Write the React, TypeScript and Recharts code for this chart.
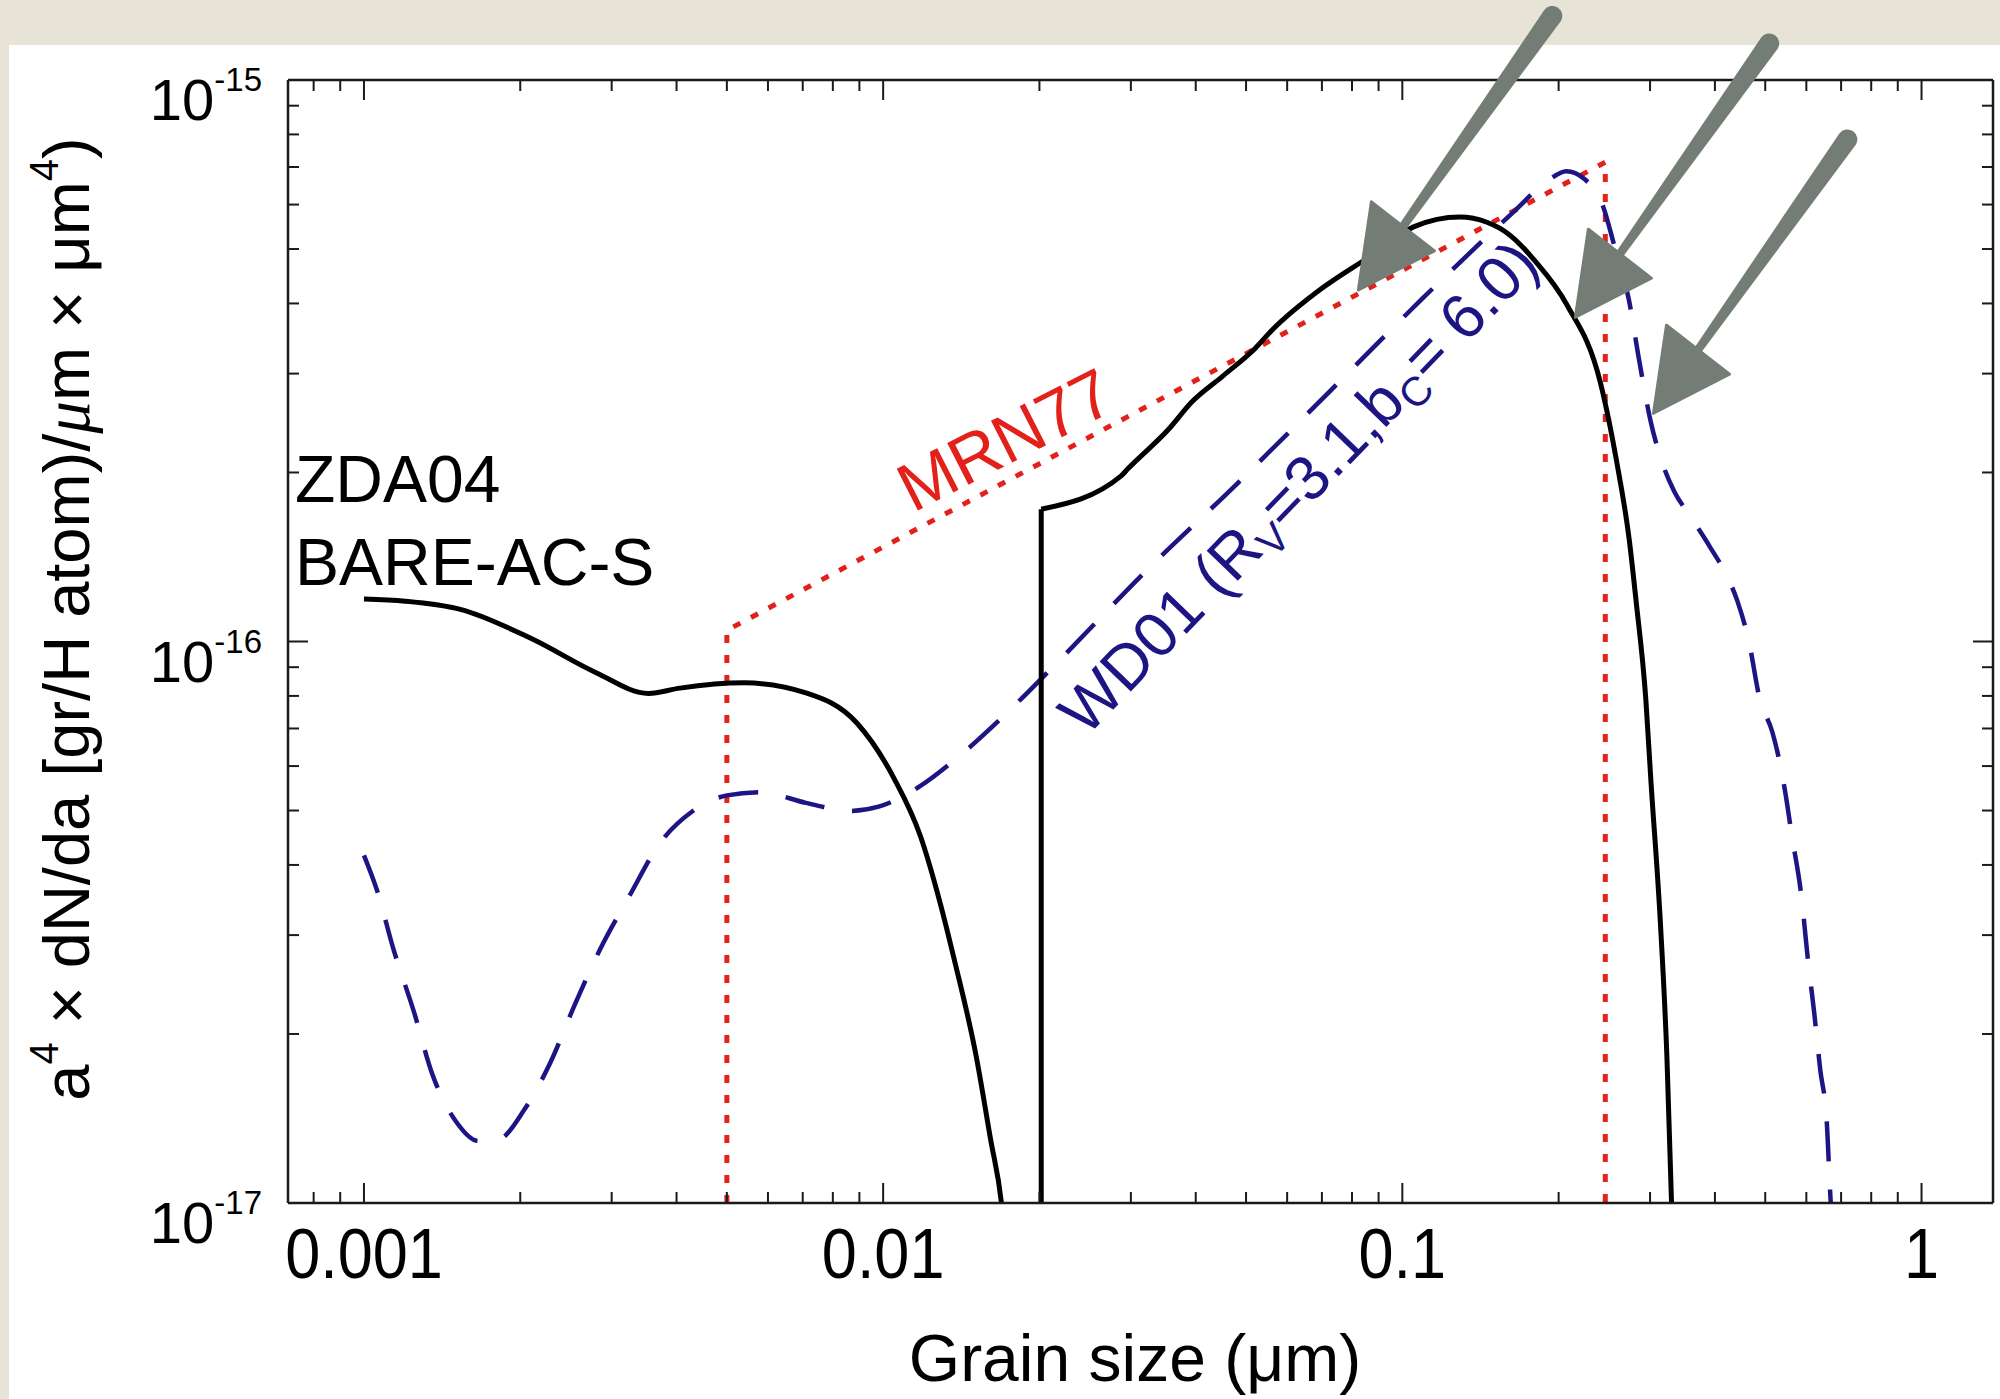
import React from "react";
import { LineChart, Line, XAxis, YAxis, ReferenceDot } from "recharts";

// grain size a (µm) and a^4 dN/da (gr/H atom µm^3)

// ZDA04 BARE-AC-S, small grains (falls off below the axis near 0.017 µm)
const zdaSmallA = [0.001, 0.0012, 0.00154, 0.00211, 0.0028, 0.00353, 0.00406, 0.0054, 0.0071, 0.0089, 0.0105, 0.0118, 0.0129, 0.0137, 0.0151, 0.0161, 0.0169, 0.0172];
const zdaSmallV = [1.19e-16, 1.18e-16, 1.14e-16, 1.01e-16, 8.8e-17, 8.08e-17, 8.26e-17, 8.44e-17, 8.1e-17, 7.16e-17, 5.7e-17, 4.5e-17, 3.4e-17, 2.72e-17, 1.83e-17, 1.3e-17, 1.0e-17, 8.5e-18];

// ZDA04 BARE-AC-S, the jump at ~0.02 µm where the large grains start
const zdaJumpA = [0.02016, 0.02016];
const zdaJumpV = [5e-18, 1.72e-16];

// ZDA04 BARE-AC-S, large grains
const zdaLargeA = [0.02016, 0.0287, 0.0296, 0.0355, 0.0393, 0.0451, 0.0521, 0.0562, 0.0701, 0.086, 0.1054, 0.129, 0.1455, 0.1543, 0.1695, 0.1787, 0.2077, 0.2405, 0.2585, 0.2735, 0.282, 0.2944, 0.3011, 0.3141, 0.3233, 0.33, 0.333];
const zdaLargeV = [1.72e-16, 1.97e-16, 2.03e-16, 2.39e-16, 2.67e-16, 2.97e-16, 3.33e-16, 3.59e-16, 4.26e-16, 4.83e-16, 5.48e-16, 5.7e-16, 5.58e-16, 5.44e-16, 5.07e-16, 4.8e-16, 3.97e-16, 2.9e-16, 2.1e-16, 1.52e-16, 1.18e-16, 7.9e-17, 5.66e-17, 3.15e-17, 1.82e-17, 1.0e-17, 8e-18];

// MRN77 power law between 0.005 and 0.25 µm
const mrnA = [0.005, 0.005, 0.246, 0.246];
const mrnV = [1e-17, 1.047e-16, 7.14e-16, 1e-17];

// WD01 (Rv=3.1, bc=6.0)
const wdA = [0.001, 0.00106, 0.00114, 0.00125, 0.00135, 0.00151, 0.00166, 0.00182, 0.00204, 0.00228, 0.00255, 0.00285, 0.00325, 0.0037, 0.0043, 0.005, 0.0058, 0.0071, 0.0086, 0.0098, 0.0118, 0.0137, 0.0172, 0.0219, 0.0321, 0.0482, 0.0725, 0.109, 0.164, 0.19, 0.207, 0.224, 0.244, 0.256, 0.273, 0.286, 0.301, 0.314, 0.334, 0.359, 0.392, 0.416, 0.442, 0.465, 0.488, 0.516, 0.531, 0.547, 0.562, 0.587, 0.604, 0.621, 0.638, 0.657, 0.666, 0.675];
const wdV = [4.16e-17, 3.6e-17, 2.83e-17, 2.18e-17, 1.71e-17, 1.39e-17, 1.29e-17, 1.3e-17, 1.47e-17, 1.77e-17, 2.26e-17, 2.83e-17, 3.53e-17, 4.35e-17, 4.99e-17, 5.32e-17, 5.39e-17, 5.16e-17, 4.99e-17, 5.08e-17, 5.53e-17, 6.14e-17, 7.42e-17, 9.28e-17, 1.336e-16, 1.915e-16, 2.79e-16, 4.07e-16, 5.83e-16, 6.6e-16, 6.88e-16, 6.67e-16, 5.93e-16, 5.07e-16, 4.07e-16, 3.16e-16, 2.46e-16, 2.13e-16, 1.85e-16, 1.67e-16, 1.47e-16, 1.34e-16, 1.18e-16, 1.0e-16, 7.9e-17, 6.9e-17, 6.2e-17, 5.36e-17, 4.54e-17, 3.52e-17, 2.72e-17, 2.19e-17, 1.73e-17, 1.39e-17, 1.07e-17, 8.5e-18];

// tips of the three grey hand-drawn arrows
const arrowA = [0.0823, 0.2154, 0.3046];
const arrowV = [4.23e-16, 3.78e-16, 2.55e-16];

// axes
const xDomain = [7.14e-4, 1.373];
const yDomain = [1e-17, 1e-15];
const xTicks = [0.0008, 0.0009, 0.001, 0.002, 0.003, 0.004, 0.005, 0.006, 0.007, 0.008, 0.009, 0.01, 0.02, 0.03, 0.04, 0.05, 0.06, 0.07, 0.08, 0.09, 0.1, 0.2, 0.3, 0.4, 0.5, 0.6, 0.7, 0.8, 0.9, 1];
const xTickLabels = ["0.001", "0.01", "0.1", "1"];
const yTicks = [1e-17, 2e-17, 3e-17, 4e-17, 5e-17, 6e-17, 7e-17, 8e-17, 9e-17, 1e-16, 2e-16, 3e-16, 4e-16, 5e-16, 6e-16, 7e-16, 8e-16, 9e-16, 1e-15];
const yTickExponents = ["-17", "-16", "-15"];

const zip = (a: number[], v: number[]) => a.map((x, i) => ({ a: x, v: v[i] }));

const FONT = '"Liberation Sans", Arial, Helvetica, sans-serif';
const AXIS = "#1a1a1a";
const RED = "#e3211b";
const NAVY = "#1c1583";
const GREY = "#747d75";

const isDecade = (v: number) => Math.abs(Math.log10(v) - Math.round(Math.log10(v))) < 1e-6;
const decadeIndex = (v: number, first: number) => Math.round(Math.log10(v)) - first;

function BottomTick({ x, y, payload }: any) {
  const v = payload.value;
  const major = isDecade(v);
  return (
    <g>
      <line x1={x} x2={x} y1={y} y2={y - (major ? 20 : 11)} stroke={AXIS} strokeWidth={2} />
      {major && (
        // the x labels are a touch taller and narrower than plain Helvetica
        <text
          transform={`translate(${x} ${y + 75}) scale(0.9 1)`}
          textAnchor="middle"
          fontSize={70}
          fontFamily={FONT}
          fill="#000"
        >
          {xTickLabels[decadeIndex(v, -3)]}
        </text>
      )}
    </g>
  );
}

function TopTick({ x, y, payload }: any) {
  const major = isDecade(payload.value);
  return <line x1={x} x2={x} y1={y} y2={y + (major ? 20 : 11)} stroke={AXIS} strokeWidth={2} />;
}

function LeftTick({ x, y, payload }: any) {
  const v = payload.value;
  const major = isDecade(v);
  return (
    <g>
      <line x1={x} x2={x + (major ? 20 : 11)} y1={y} y2={y} stroke={AXIS} strokeWidth={2} />
      {major && (
        <text x={x - 26} y={y + 40} textAnchor="end" fontFamily={FONT} fill="#000">
          <tspan fontSize={58}>10</tspan>
          <tspan fontSize={33} dy={-29}>{yTickExponents[decadeIndex(v, -17)]}</tspan>
        </text>
      )}
    </g>
  );
}

function RightTick({ x, y, payload }: any) {
  const major = isDecade(payload.value);
  return <line x1={x} x2={x - (major ? 20 : 11)} y1={y} y2={y} stroke={AXIS} strokeWidth={2} />;
}

// brush-like arrow, tip at (cx, cy), pointing down-left
function ArrowShape({ cx, cy }: any) {
  if (cx == null || cy == null) return null;
  const px = 0.815, py = 0.579;
  const sx = cx + 40, sy = cy - 57;
  const tx = cx + 194, ty = cy - 274;
  const w0 = 4, w1 = 10;
  const shaft =
    `M${sx + px * w0},${sy + py * w0} L${tx + px * w1},${ty + py * w1} ` +
    `A${w1},${w1} 0 0 0 ${tx - px * w1},${ty - py * w1} L${sx - px * w0},${sy - py * w0} Z`;
  const head = `M${cx},${cy} L${cx + 13},${cy - 88} L${cx + 76},${cy - 39} Z`;
  return (
    <g>
      <path d={shaft} fill={GREY} />
      <path d={head} fill={GREY} stroke={GREY} strokeWidth={3} strokeLinejoin="round" />
    </g>
  );
}

export default function App() {
  const axisLine = { stroke: AXIS, strokeWidth: 2.5 };
  return (
    <div
      style={{
        position: "absolute",
        left: 0,
        top: 0,
        width: 2000,
        height: 1399,
        background: "#e7e4d7",
        overflow: "hidden",
        fontFamily: FONT,
      }}
    >
      <div style={{ position: "absolute", left: 9, top: 45, right: 0, bottom: 0, background: "#ffffff" }} />
      <div style={{ position: "absolute", left: 0, top: 0 }}>
        <LineChart width={2000} height={1399} margin={{ top: 79, right: 6, bottom: 195, left: 287 }}>
          <XAxis
            xAxisId="b"
            dataKey="a"
            type="number"
            scale="log"
            domain={xDomain}
            allowDataOverflow
            ticks={xTicks}
            interval={0}
            height={1}
            tickSize={0}
            tickMargin={0}
            tickLine={false}
            axisLine={axisLine}
            tick={(p: any) => <BottomTick {...p} />}
          />
          <XAxis
            xAxisId="t"
            orientation="top"
            dataKey="a"
            type="number"
            scale="log"
            domain={xDomain}
            allowDataOverflow
            ticks={xTicks}
            interval={0}
            height={1}
            tickSize={0}
            tickMargin={0}
            tickLine={false}
            axisLine={axisLine}
            tick={(p: any) => <TopTick {...p} />}
          />
          <YAxis
            yAxisId="l"
            dataKey="v"
            type="number"
            scale="log"
            domain={yDomain}
            allowDataOverflow
            ticks={yTicks}
            interval={0}
            width={1}
            tickSize={0}
            tickMargin={0}
            tickLine={false}
            axisLine={axisLine}
            tick={(p: any) => <LeftTick {...p} />}
          />
          <YAxis
            yAxisId="r"
            orientation="right"
            dataKey="v"
            type="number"
            scale="log"
            domain={yDomain}
            allowDataOverflow
            ticks={yTicks}
            interval={0}
            width={1}
            tickSize={0}
            tickMargin={0}
            tickLine={false}
            axisLine={axisLine}
            tick={(p: any) => <RightTick {...p} />}
          />
          <Line
            xAxisId="b"
            yAxisId="l"
            data={zip(mrnA, mrnV)}
            dataKey="v"
            type="linear"
            stroke={RED}
            strokeWidth={5}
            strokeDasharray="8 12"
            dot={false}
            activeDot={false}
            isAnimationActive={false}
          />
          <Line
            xAxisId="b"
            yAxisId="l"
            data={zip(wdA, wdV)}
            dataKey="v"
            type="monotone"
            stroke={NAVY}
            strokeWidth={4.5}
            strokeDasharray="40 28"
            dot={false}
            activeDot={false}
            isAnimationActive={false}
          />
          <Line
            xAxisId="b"
            yAxisId="l"
            data={zip(zdaSmallA, zdaSmallV)}
            dataKey="v"
            type="monotone"
            stroke="#000"
            strokeWidth={5}
            dot={false}
            activeDot={false}
            isAnimationActive={false}
          />
          <Line
            xAxisId="b"
            yAxisId="l"
            data={zip(zdaJumpA, zdaJumpV)}
            dataKey="v"
            type="linear"
            stroke="#000"
            strokeWidth={5}
            dot={false}
            activeDot={false}
            isAnimationActive={false}
          />
          <Line
            xAxisId="b"
            yAxisId="l"
            data={zip(zdaLargeA, zdaLargeV)}
            dataKey="v"
            type="monotone"
            stroke="#000"
            strokeWidth={5}
            strokeLinejoin="round"
            dot={false}
            activeDot={false}
            isAnimationActive={false}
          />
          {arrowA.map((a, i) => (
            <ReferenceDot
              key={i}
              xAxisId="b"
              yAxisId="l"
              x={a}
              y={arrowV[i]}
              r={1}
              ifOverflow="visible"
              shape={(p: any) => <ArrowShape {...p} />}
            />
          ))}
        </LineChart>
      </div>
      <svg
        width={2000}
        height={1399}
        style={{ position: "absolute", left: 0, top: 0, pointerEvents: "none" }}
        fontFamily={FONT}
      >
        <text x={295} y={502} fontSize={66} fill="#000">ZDA04</text>
        <text x={295} y={585} fontSize={66} fill="#000">BARE-AC-S</text>
        <text transform="translate(913 513) rotate(-27)" fontSize={68} fill={RED}>MRN77</text>
        <text transform="translate(1086 738) rotate(-46)" fontSize={63} fill={NAVY}>
          <tspan>WD01 (R</tspan>
          <tspan fontSize={41} dy={11}>V</tspan>
          <tspan dy={-11}>=3.1,b</tspan>
          <tspan fontSize={41} dy={11}>C</tspan>
          <tspan dy={-11}>= 6.0)</tspan>
        </text>
        <text transform="translate(89 619) rotate(-90)" textAnchor="middle" fontSize={65} fill="#000">
          <tspan>a</tspan>
          <tspan fontSize={40} dy={-31}>4</tspan>
          <tspan dy={31}> × dN/da [gr/H atom)/</tspan>
          <tspan fontStyle="italic" fontFamily='"Liberation Serif", serif'>μ</tspan>
          <tspan>m × μm</tspan>
          <tspan fontSize={40} dy={-31}>4</tspan>
          <tspan dy={31}>)</tspan>
        </text>
        <text x={1135} y={1381} textAnchor="middle" fontSize={66} fill="#000">Grain size (μm)</text>
      </svg>
    </div>
  );
}
